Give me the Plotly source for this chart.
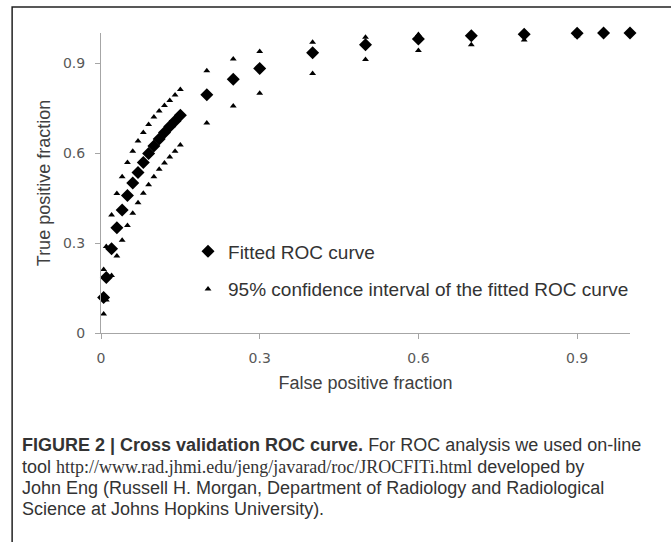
import plotly.graph_objects as go

# False positive fraction at which the fitted ROC curve was evaluated
fpf = [0.005, 0.01, 0.02, 0.03, 0.04, 0.05, 0.06, 0.07, 0.08, 0.09, 0.10,
       0.11, 0.12, 0.13, 0.14, 0.15, 0.20, 0.25, 0.30, 0.40, 0.50, 0.60,
       0.70, 0.80, 0.90, 0.95, 1.00]
# Fitted ROC curve (true positive fraction)
tpf_fit = [0.118, 0.185, 0.281, 0.351, 0.410, 0.458, 0.500, 0.535, 0.568,
           0.598, 0.623, 0.647, 0.668, 0.688, 0.707, 0.726, 0.794, 0.846,
           0.882, 0.934, 0.961, 0.980, 0.991, 0.996, 0.999, 1.000, 1.000]
# 95% confidence interval bounds
tpf_upper = [0.212, 0.288, 0.393, 0.465, 0.521, 0.568, 0.606, 0.640, 0.668,
             0.695, 0.720, 0.740, 0.758, 0.775, 0.793, 0.812, 0.874, 0.913,
             0.938, 0.969, 0.986, 0.995, 0.998, 1.000, 1.000, 1.000, 1.000]
tpf_lower = [0.063, 0.110, 0.192, 0.257, 0.309, 0.358, 0.399, 0.434, 0.466,
             0.494, 0.521, 0.546, 0.567, 0.587, 0.606, 0.627, 0.700, 0.757,
             0.799, 0.865, 0.912, 0.942, 0.961, 0.977, 0.991, 0.997, 1.000]

tick_vals = [0, 0.3, 0.6, 0.9]
tick_text = ["0", "0.3", "0.6", "0.9"]

legend_fit = "Fitted ROC curve"
legend_ci = "95% confidence interval of the fitted ROC curve"
x_title = "False positive fraction"
y_title = "True positive fraction"
caption_lines = [
    "<b>FIGURE 2 | Cross validation ROC curve.</b> For ROC analysis we used on-line",
    "tool <span style=\"font-family:'Liberation Serif', 'Times New Roman', serif\">"
    "http://www.rad.jhmi.edu/jeng/javarad/roc/JROCFITi.html</span> developed by",
    "John Eng (Russell H. Morgan, Department of Radiology and Radiological",
    "Science at Johns Hopkins University).",
]

fig = go.Figure()

fig.add_trace(go.Scatter(
    x=fpf + fpf, y=tpf_lower + tpf_upper, mode="markers",
    marker=dict(symbol="triangle-up", size=6, color="black"),
    name=legend_ci, legendrank=2, legendgroup="ci",
    cliponaxis=False,
))
fig.add_trace(go.Scatter(
    x=fpf, y=tpf_fit, mode="markers",
    marker=dict(symbol="diamond", size=10, color="black"),
    name=legend_fit, legendrank=1, legendgroup="fit",
    cliponaxis=False,
))

axis_color = "#a6a6a6"
tick_font = dict(family="DejaVu Sans, Verdana, sans-serif", size=14, color="#595959")
title_font = dict(family="Liberation Sans, Arial, sans-serif", size=18, color="#404040")

fig.update_xaxes(
    range=[0, 1.0], tickvals=tick_vals, ticktext=tick_text,
    showgrid=False, zeroline=False, showline=True, linecolor=axis_color, linewidth=1,
    ticks="outside", ticklen=5, tickcolor=axis_color, tickfont=tick_font,
    ticklabelstandoff=7,
    title=dict(text=x_title, font=title_font, standoff=11),
)
fig.update_yaxes(
    range=[0, 1.0], tickvals=tick_vals, ticktext=tick_text,
    showgrid=False, zeroline=False, showline=True, linecolor=axis_color, linewidth=1,
    ticks="outside", ticklen=5, tickcolor=axis_color, tickfont=tick_font,
    ticklabelstandoff=7,
    title=dict(text=y_title, font=title_font, standoff=7),
)

annotations = []
caption_y = [-0.373, -0.447, -0.517, -0.587]
for line, yy in zip(caption_lines, caption_y):
    annotations.append(dict(
        text=line, xref="paper", yref="paper", x=-0.153, y=yy,
        xanchor="left", yanchor="middle", showarrow=False, align="left",
        font=dict(family="Liberation Sans, Arial, sans-serif", size=18, color="#333333"),
    ))

fig.update_layout(
    width=671, height=542,
    margin=dict(l=101, r=41, t=33, b=209),
    paper_bgcolor="white", plot_bgcolor="white",
    showlegend=True,
    legend=dict(
        x=0.1645, y=0.335, xanchor="left", yanchor="top",
        bgcolor="rgba(0,0,0,0)", borderwidth=0,
        font=dict(family="Liberation Sans, Arial, sans-serif", size=19, color="#333333"),
        tracegroupgap=10,
    ),
    annotations=annotations,
    shapes=[dict(
        type="rect", xref="paper", yref="paper",
        x0=-0.168, x1=1.2, y0=-0.8, y1=1.0867,
        line=dict(color="#222222", width=1.5), layer="below",
    )],
)

fig.write_html("out.html")
